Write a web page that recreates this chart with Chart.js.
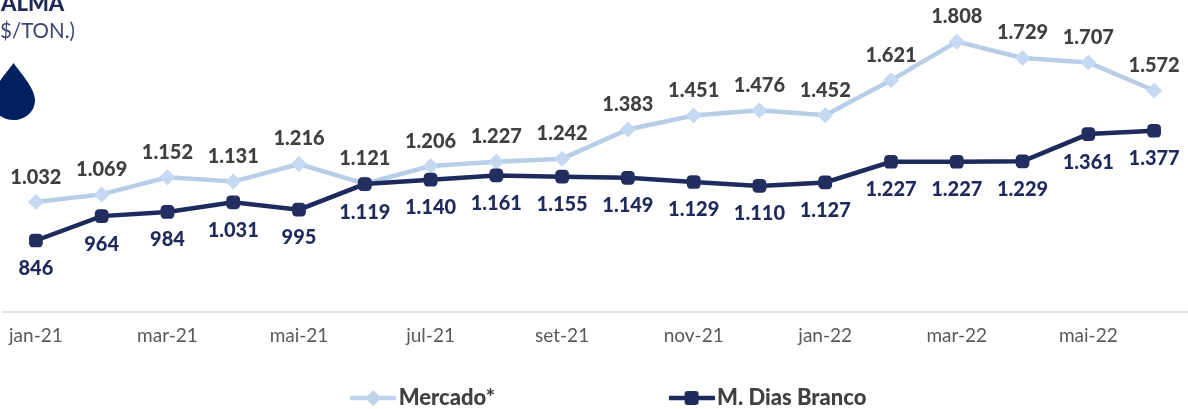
<!DOCTYPE html>
<html><head><meta charset="utf-8">
<style>
html,body{margin:0;padding:0;background:#fff;overflow:hidden}
#w{position:relative;width:1188px;height:409px;overflow:hidden}
canvas{position:absolute;left:0;top:0}
.t{position:absolute;white-space:nowrap;font-family:Lato,sans-serif}
</style>
<script src="https://cdn.jsdelivr.net/npm/chart.js@4"></script>
</head><body><div id="w">
<canvas id="c" width="1188" height="409"></canvas>
<div class="t" style="left:1px;top:-11px;font-size:22px;font-weight:900;color:#1f2a5c;line-height:28px">ALMA</div>
<div class="t" style="left:0;top:17px;font-size:20.5px;font-weight:400;color:#3a4670;line-height:26px">$/TON.)</div>
<svg style="position:absolute;left:0;top:0" width="40" height="125"><path fill="#002060" d="M13.5 63 C19 71 35 88 35 100 C35 112 25 120 13.5 120 C2 120 -8 112 -8 100 C-8 88 8 71 13.5 63Z"/></svg>
</div>
<script>
const categories=['jan-21','fev-21','mar-21','abr-21','mai-21','jun-21','jul-21','ago-21','set-21','out-21','nov-21','dez-21','jan-22','fev-22','mar-22','abr-22','mai-22','jun-22'];
const mercado=[1032,1069,1152,1131,1216,1121,1206,1227,1242,1383,1451,1476,1452,1621,1808,1729,1707,1572];
const diasBranco=[846,964,984,1031,995,1119,1140,1161,1155,1149,1129,1110,1127,1227,1227,1229,1361,1377];
const fmt=v=>v>=1000?Math.floor(v/1000)+'.'+String(v%1000).padStart(3,'0'):String(v);
function legendIcon(color,shape){
  const c=document.createElement('canvas');c.width=46;c.height=18;const x=c.getContext('2d');
  x.strokeStyle=color;x.lineWidth=4.5;x.lineCap='round';x.beginPath();x.moveTo(1,9);x.lineTo(45,9);x.stroke();
  x.fillStyle=color;
  if(shape==='d'){x.beginPath();x.moveTo(23,1);x.lineTo(31,9);x.lineTo(23,17);x.lineTo(15,9);x.closePath();x.fill();}
  else{x.beginPath();x.roundRect(16,2,14,14,3);x.fill();}
  return c;
}
const valueLabels={id:'valueLabels',afterDatasetsDraw(ch){
  const g=ch.ctx;g.save();g.textAlign='center';g.textBaseline='middle';g.font='900 20px Lato';
  ch.data.datasets.forEach((d,di)=>{
    const m=ch.getDatasetMeta(di);
    g.fillStyle=di===0?'#404040':'#1f2a5c';
    m.data.forEach((p,i)=>g.fillText(fmt(d.data[i]),p.x,p.y+(di===0?-25:28)));
  });
  g.restore();
}};
const legendFix={id:'legendFix',
  beforeLayout(ch){const l=ch.legend;if(!l._w){l._w=1;const f=l.fit;l.fit=function(){f.call(this);this.height=30;};}},
  afterLayout(ch){const l=ch.legend;l.left+=17.5;l.right+=17.5;l.top=387-182;}
};
new Chart(document.getElementById('c'),{
  type:'line',
  data:{labels:categories,datasets:[
    {label:'Mercado*',data:mercado,borderColor:'#b8cde6',backgroundColor:'#c5daf2',borderWidth:4.5,order:2,tension:0,pointStyle:'rectRot',pointRadius:8,pointBackgroundColor:'#c5daf2',pointBorderWidth:0},
    {label:'M. Dias Branco',data:diasBranco,borderColor:'#1f2a5c',backgroundColor:'#1f2a5c',borderWidth:4.5,order:1,tension:0,pointStyle:'rectRounded',pointRadius:8,pointBackgroundColor:'#232e60',pointBorderWidth:0}
  ]},
  options:{
    responsive:false,animation:false,
    layout:{autoPadding:false,padding:{left:3,right:1,top:2,bottom:0}},
    scales:{
      y:{display:false,min:500,max:2000},
      x:{offset:true,grid:{display:false,drawTicks:false},border:{color:'#e6e6e6',width:2},
         afterFit(s){s.height=67;s.paddingLeft=0;s.paddingRight=0;},
         ticks:{autoSkip:false,maxRotation:0,padding:12,color:'#595959',font:{family:'Lato',size:19},
           callback(v,i){return i%2?'':categories[i];}}}
    },
    plugins:{
      tooltip:{enabled:false},
      legend:{position:'bottom',
        labels:{usePointStyle:true,pointStyleWidth:29,boxHeight:18,padding:182,color:'#404040',font:{family:'Lato',size:22,weight:'900'},
          generateLabels(ch){return ch.data.datasets.map((d,i)=>({text:d.label,fontColor:'#404040',pointStyle:legendIcon(i?'#1f2a5c':'#bfd3ec',i?'s':'d'),datasetIndex:i,lineWidth:0,strokeStyle:'transparent',fillStyle:'transparent'}));}
        }}
    }
  },
  plugins:[valueLabels,legendFix]
});
</script></body></html>
